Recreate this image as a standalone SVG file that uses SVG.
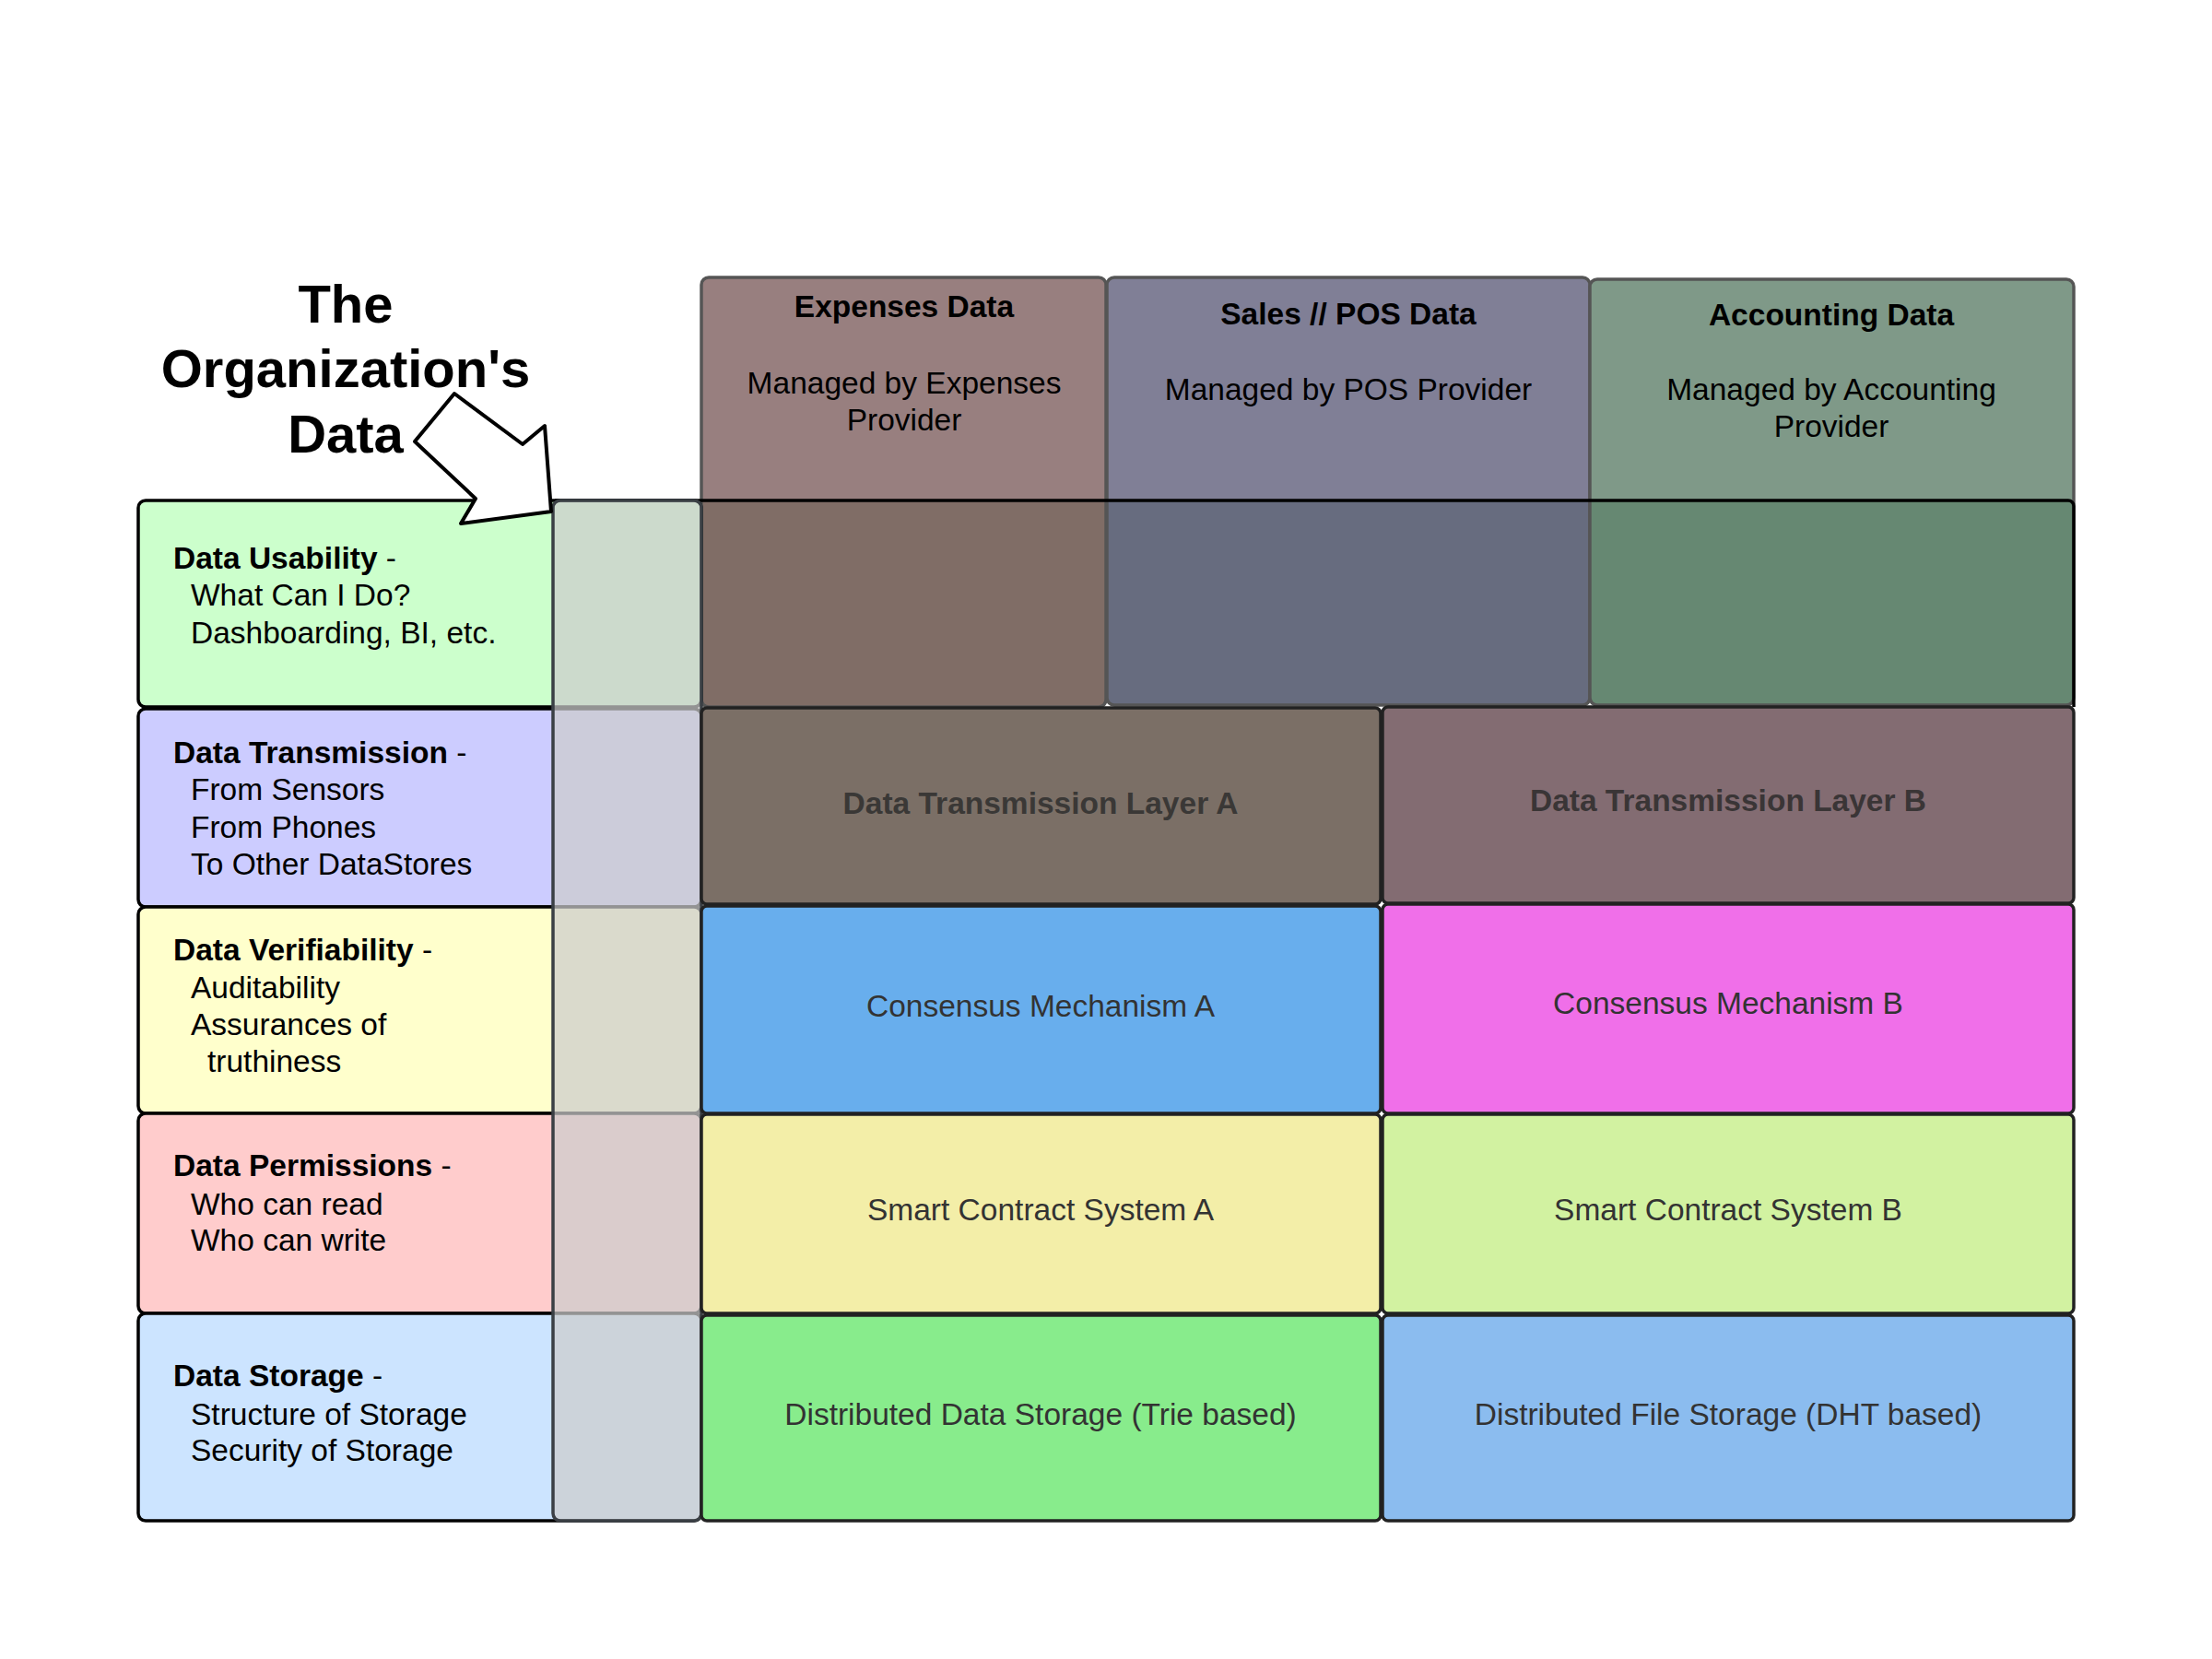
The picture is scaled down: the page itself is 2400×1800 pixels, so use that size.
<svg xmlns="http://www.w3.org/2000/svg" width="2400" height="1800" viewBox="0 0 2400 1800">
<style>
text{font-family:"Liberation Sans",Arial,sans-serif;font-size:33.5px;fill:#000}
.b{font-weight:bold}
.c{text-anchor:middle}
.g{fill:#333}
.title{font-size:58px;font-weight:bold;text-anchor:middle}
.lbox{stroke:#000;stroke-width:3.5}
.hbox{stroke:#555;stroke-width:3.5;fill:none}
.cell{stroke:#222;stroke-width:3.5}
</style>
<rect width="2400" height="1800" fill="#fff"/>
<g id="title">
<text class="title" x="375" y="350">The</text>
<text class="title" x="375" y="420">Organization's</text>
<text class="title" x="375" y="491">Data</text>
</g>
<g id="header-expenses">
<rect x="761" y="301" width="439" height="466" rx="8" fill="#987f7f"/>
<rect x="761" y="543" width="439" height="224" rx="6" fill="#806d66"/>
<rect class="hbox" x="761" y="301" width="439" height="466" rx="8"/>
<text class="b c" x="981" y="344">Expenses Data</text>
<text class="c" x="981" y="427">Managed by Expenses</text>
<text class="c" x="981" y="467">Provider</text>
</g>
<g id="header-sales">
<rect x="1201" y="301" width="524" height="464" rx="8" fill="#807f96"/>
<rect x="1201" y="543" width="524" height="222" rx="6" fill="#676c7f"/>
<rect class="hbox" x="1201" y="301" width="524" height="464" rx="8"/>
<text class="b c" x="1463" y="352">Sales // POS Data</text>
<text class="c" x="1463" y="434">Managed by POS Provider</text>
</g>
<g id="header-accounting">
<rect x="1725" y="303" width="525" height="462" rx="8" fill="#7f9988"/>
<rect x="1725" y="543" width="525" height="222" rx="6" fill="#668872"/>
<rect class="hbox" x="1725" y="303" width="525" height="462" rx="8"/>
<text class="b c" x="1987" y="353">Accounting Data</text>
<text class="c" x="1987" y="434">Managed by Accounting</text>
<text class="c" x="1987" y="474">Provider</text>
</g>
<g id="usability-overlay">
<path d="M602 543H2244a6 6 0 0 1 6 6V767" fill="none" stroke="#000" stroke-width="3.5"/>
</g>
<g id="row-usability">
<rect class="lbox" x="150" y="543" width="611" height="224" rx="8" fill="#ccffcc"/>
<text x="188" y="617"><tspan class="b">Data Usability</tspan> -</text>
<text x="207" y="657">What Can I Do?</text>
<text x="207" y="698">Dashboarding, BI, etc.</text>
</g>
<g id="row-transmission">
<rect class="lbox" x="150" y="769" width="611" height="215" rx="8" fill="#ccccff"/>
<text x="188" y="828"><tspan class="b">Data Transmission</tspan> -</text>
<text x="207" y="868">From Sensors</text>
<text x="207" y="909">From Phones</text>
<text x="207" y="949">To Other DataStores</text>
</g>
<g id="row-verifiability">
<rect class="lbox" x="150" y="984" width="611" height="224" rx="8" fill="#ffffcc"/>
<text x="188" y="1042"><tspan class="b">Data Verifiability</tspan> -</text>
<text x="207" y="1083">Auditability</text>
<text x="207" y="1123">Assurances of</text>
<text x="225" y="1163">truthiness</text>
</g>
<g id="row-permissions">
<rect class="lbox" x="150" y="1208" width="611" height="217" rx="8" fill="#ffcccc"/>
<text x="188" y="1276"><tspan class="b">Data Permissions</tspan> -</text>
<text x="207" y="1318">Who can read</text>
<text x="207" y="1357">Who can write</text>
</g>
<g id="row-storage">
<rect class="lbox" x="150" y="1425" width="611" height="225" rx="8" fill="#cce4ff"/>
<text x="188" y="1504"><tspan class="b">Data Storage</tspan> -</text>
<text x="207" y="1546">Structure of Storage</text>
<text x="207" y="1585">Security of Storage</text>
</g>
<g id="gray-column">
<rect x="600" y="543" width="161" height="1107" rx="8" fill="#cccccc" fill-opacity="0.72" stroke="#3a3f44" stroke-width="3.5"/>
</g>
<g id="arrow">
<polygon points="450,479 493,427 567,482 591,462 598,555 500,568 516,541" fill="#fff" stroke="#000" stroke-width="4" stroke-linejoin="round"/>
</g>
<g id="transmission-a">
<rect class="cell" x="761" y="768" width="737" height="213" rx="6" fill="#7b6f66"/>
<text class="b c" x="1129" y="883" style="fill:#3a3836">Data Transmission Layer A</text>
</g>
<g id="transmission-b">
<rect class="cell" x="1500" y="767" width="750" height="213" rx="6" fill="#836c72"/>
<text class="b c" x="1875" y="880" style="fill:#3a3536">Data Transmission Layer B</text>
</g>
<g id="consensus-a">
<rect class="cell" x="761" y="983" width="737" height="225" rx="6" fill="#68aeed"/>
<text class="c g" x="1129" y="1103">Consensus Mechanism A</text>
</g>
<g id="consensus-b">
<rect class="cell" x="1500" y="981" width="750" height="227" rx="6" fill="#f06fe9" stroke="#7a2a7a"/>
<text class="c g" x="1875" y="1100">Consensus Mechanism B</text>
</g>
<g id="smart-a">
<rect class="cell" x="761" y="1209" width="737" height="216" rx="6" fill="#f3eea8"/>
<text class="c g" x="1129" y="1324">Smart Contract System A</text>
</g>
<g id="smart-b">
<rect class="cell" x="1500" y="1209" width="750" height="216" rx="6" fill="#d2f2a1"/>
<text class="c g" x="1875" y="1324">Smart Contract System B</text>
</g>
<g id="storage-a">
<rect class="cell" x="761" y="1427" width="737" height="223" rx="6" fill="#88ec8c"/>
<text class="c g" x="1129" y="1546">Distributed Data Storage (Trie based)</text>
</g>
<g id="storage-b">
<rect class="cell" x="1500" y="1427" width="750" height="223" rx="6" fill="#8bbcef"/>
<text class="c g" x="1875" y="1546">Distributed File Storage (DHT based)</text>
</g>
<g id="connectors"></g>
</svg>
